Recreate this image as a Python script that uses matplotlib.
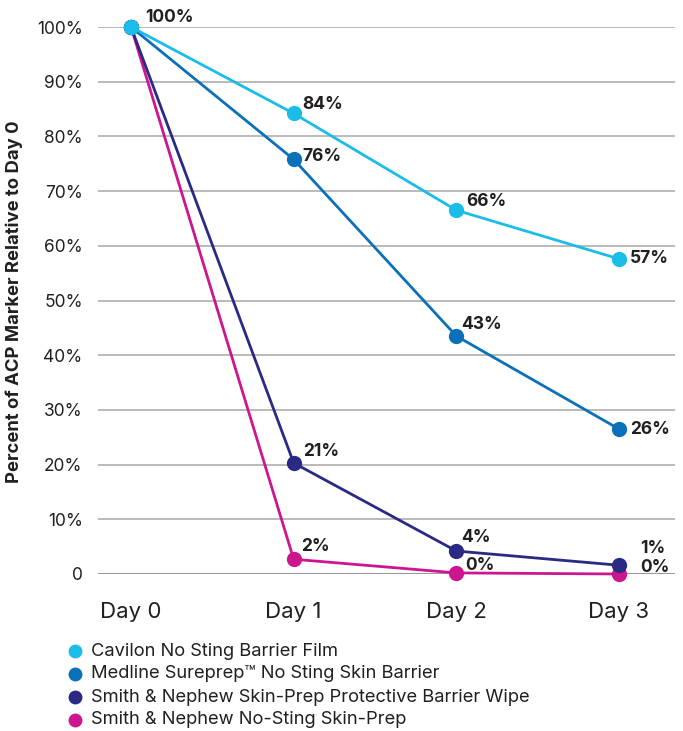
import matplotlib
matplotlib.use("Agg")
import matplotlib.pyplot as plt
from matplotlib.lines import Line2D

plt.rcParams['font.family'] = ['Inter', 'DejaVu Sans']

days = ["Day 0", "Day 1", "Day 2", "Day 3"]
series_names = [
    "Cavilon No Sting Barrier Film",
    "Medline Sureprep\u2122 No Sting Skin Barrier",
    "Smith & Nephew Skin-Prep Protective Barrier Wipe",
    "Smith & Nephew No-Sting Skin-Prep",
]
cavilon = [100, 84.2, 66.5, 57.6]
medline = [100, 75.8, 43.5, 26.5]
sn_wipe = [100, 20.3, 4.2, 1.6]
sn_nosting = [100, 2.7, 0.2, 0.0]

cavilon_labels = ["100%", "84%", "66%", "57%"]
medline_labels = [None, "76%", "43%", "26%"]
sn_wipe_labels = [None, "21%", "4%", "1%"]
sn_nosting_labels = [None, "2%", "0%", "0%"]

yticks = [0, 10, 20, 30, 40, 50, 60, 70, 80, 90, 100]
ytick_labels = ["0", "10%", "20%", "30%", "40%", "50%", "60%", "70%", "80%", "90%", "100%"]

colors = ["#1ABDE8", "#0A70B8", "#2A2984", "#CC1690"]

fig = plt.figure(figsize=(6.83, 7.31), dpi=100)
ax = fig.add_axes([98/683, 1-574/731, (675-98)/683, (574-27)/731])

x = list(range(len(days)))
all_vals = [cavilon, medline, sn_wipe, sn_nosting]
all_labels = [cavilon_labels, medline_labels, sn_wipe_labels, sn_nosting_labels]

# label offsets in pixels
offsets = [
    [(14, 10), (9, 9), (10, 9), (11, 0)],
    [None, (9, 3), (5, 12), (11, 0)],
    [None, (9, 11), (5, 14), (21, 17)],
    [None, (7, 13), (9, 7), (21, 6)],
]

for i in [3, 2, 1, 0]:
    ax.plot(x, all_vals[i], color=colors[i], lw=2.0, marker='o', markersize=11,
            markeredgewidth=0, clip_on=False, zorder=3 + (3 - i))

for i in range(4):
    for j in range(4):
        lab = all_labels[i][j]
        if lab is None:
            continue
        dx, dy = offsets[i][j]
        ax.annotate(lab, (x[j], all_vals[i][j]), xytext=(dx, dy), textcoords='offset pixels',
                    ha='left', va='center', fontsize=12.5, fontweight='bold', color='#231F20',
                    zorder=10, annotation_clip=False)

ax.set_xlim(-0.203, 3.344)
ax.set_ylim(0, 100)
ax.set_yticks(yticks)
ax.set_yticklabels(ytick_labels, fontsize=12.5, color='#231F20')
ax.set_xticks(x)
ax.set_xticklabels(days, fontsize=16, color='#231F20')
ax.tick_params(axis='y', length=0, pad=11)
ax.tick_params(axis='x', length=0, pad=20)

for y in yticks[1:]:
    ax.axhline(y, color='#AEAEAE', lw=1.2, zorder=1)
ax.axhline(0, color='#999999', lw=2.2, zorder=1)

for s in ax.spines.values():
    s.set_visible(False)

ax.set_ylabel("Percent of ACP Marker Relative to Day 0", fontsize=13.3, fontweight='bold',
              color='#231F20', labelpad=3)
ax.yaxis.set_label_coords(-(98 - 23) / 577, (574 - 302) / 547)

# legend
leg_y = [651, 674, 697, 720]
for i in range(4):
    fy = 1 - leg_y[i] / 731
    fig.add_artist(Line2D([75/683], [fy], marker='o', markersize=10, color=colors[i],
                          markeredgewidth=0, transform=fig.transFigure))
    fig.text(91/683, fy, series_names[i], fontsize=13.2, color='#231F20', ha='left', va='center')

fig.savefig("out.png", dpi=100)
